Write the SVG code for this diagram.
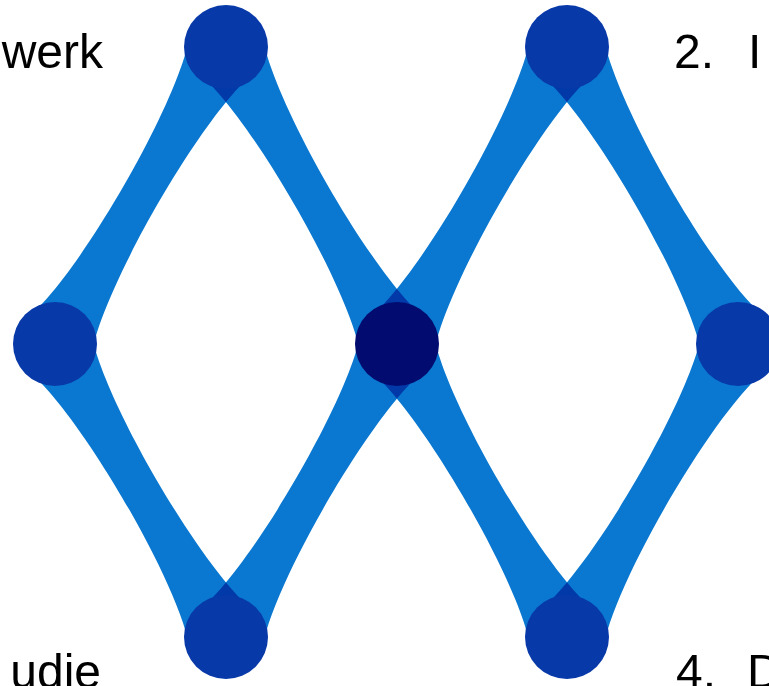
<svg xmlns="http://www.w3.org/2000/svg" xmlns:xlink="http://www.w3.org/1999/xlink" width="769" height="686" viewBox="0 0 769 686">
  <style>
    .band { fill: #0a78d0; mix-blend-mode: multiply; }
    .node { fill: #0839a9; }
    .hub { fill: #020c70; }
    .label { font-family: "Liberation Sans", Arial, sans-serif; font-size: 48px; fill: #000000; }
  </style>
  <defs>
    <path id="bandShape" d="M0,-41 C15,-12 85,-12 100,-41 L100,41 C85,12 15,12 0,41 Z"/>
  </defs>
  <rect x="0" y="0" width="769" height="686" fill="#ffffff"/>
  <g id="connectors">
    <use class="band" href="#bandShape" transform="translate(226,47) rotate(119.93) scale(3.427,1)"/>
    <use class="band" href="#bandShape" transform="translate(226,47) rotate(60.07) scale(3.427,1)"/>
    <use class="band" href="#bandShape" transform="translate(567,47) rotate(119.79) scale(3.422,1)"/>
    <use class="band" href="#bandShape" transform="translate(567,47) rotate(60.07) scale(3.427,1)"/>
    <use class="band" href="#bandShape" transform="translate(55,344) rotate(59.73) scale(3.3925,1)"/>
    <use class="band" href="#bandShape" transform="translate(397,344) rotate(120.27) scale(3.3925,1)"/>
    <use class="band" href="#bandShape" transform="translate(397,344) rotate(59.88) scale(3.3875,1)"/>
    <use class="band" href="#bandShape" transform="translate(738,344) rotate(120.27) scale(3.3925,1)"/>
  </g>
  <g id="node-top-left"><circle class="node" cx="226" cy="47" r="42"/></g>
  <g id="node-top-right"><circle class="node" cx="567" cy="47" r="42"/></g>
  <g id="node-left"><circle class="node" cx="55" cy="344" r="42"/></g>
  <g id="node-center"><circle class="hub" cx="397" cy="344" r="42"/></g>
  <g id="node-right"><circle class="node" cx="738" cy="344" r="42"/></g>
  <g id="node-bottom-left"><circle class="node" cx="226" cy="637" r="42"/></g>
  <g id="node-bottom-right"><circle class="node" cx="567" cy="637" r="42"/></g>
  <g id="labels">
    <text class="label" x="103" y="68" text-anchor="end">werk</text>
    <text class="label" x="674" y="68">2.<tspan x="748">I</tspan></text>
    <text class="label" x="101" y="688" text-anchor="end">udie</text>
    <text class="label" x="676" y="688">4.<tspan x="747">D</tspan></text>
  </g>
</svg>
